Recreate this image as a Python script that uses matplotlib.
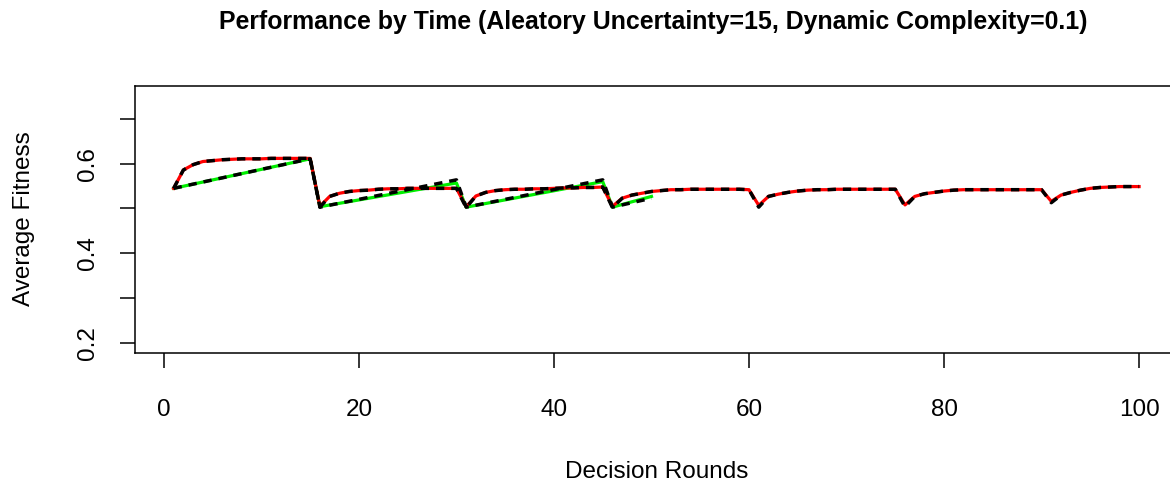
import matplotlib
matplotlib.use("Agg")
import matplotlib.pyplot as plt

plt.rcParams['font.family'] = ['Liberation Sans', 'DejaVu Sans']

# ---- data ----
rounds = list(range(1, 101))
red_vals = [
    0.545, 0.586, 0.598, 0.605, 0.607, 0.609, 0.610, 0.611, 0.611, 0.611,
    0.612, 0.612, 0.612, 0.612, 0.612, 0.505, 0.527, 0.534, 0.538, 0.540,
    0.541, 0.543, 0.544, 0.544, 0.545, 0.545, 0.545, 0.545, 0.545, 0.545,
    0.504, 0.528, 0.536, 0.540, 0.542, 0.543, 0.543, 0.544, 0.544, 0.545,
    0.546, 0.546, 0.547, 0.547, 0.548, 0.505, 0.523, 0.530, 0.534, 0.538,
    0.540, 0.542, 0.542, 0.543, 0.543, 0.543, 0.543, 0.543, 0.543, 0.542,
    0.507, 0.527, 0.532, 0.536, 0.539, 0.541, 0.542, 0.542, 0.543, 0.543,
    0.543, 0.543, 0.543, 0.543, 0.543, 0.508, 0.527, 0.533, 0.536, 0.539,
    0.541, 0.542, 0.542, 0.542, 0.542, 0.542, 0.542, 0.542, 0.542, 0.542,
    0.516, 0.530, 0.536, 0.541, 0.545, 0.547, 0.548, 0.549, 0.549, 0.549,
]
black1_vals = [
    0.545, 0.586, 0.598, 0.605, 0.607, 0.609, 0.610, 0.611, 0.611, 0.611,
    0.612, 0.612, 0.612, 0.612, 0.612, 0.503, 0.527, 0.534, 0.538, 0.540,
    0.541, 0.543, 0.544, 0.544, 0.545, 0.545, 0.545, 0.545, 0.545, 0.545,
    0.502, 0.528, 0.536, 0.540, 0.542, 0.543, 0.543, 0.544, 0.544, 0.545,
    0.546, 0.546, 0.547, 0.547, 0.548, 0.502, 0.523, 0.530, 0.534, 0.538,
    0.540, 0.542, 0.542, 0.543, 0.543, 0.543, 0.543, 0.543, 0.543, 0.542,
    0.503, 0.527, 0.532, 0.536, 0.539, 0.541, 0.542, 0.542, 0.543, 0.543,
    0.543, 0.543, 0.543, 0.543, 0.543, 0.504, 0.527, 0.533, 0.536, 0.539,
    0.541, 0.542, 0.542, 0.542, 0.542, 0.542, 0.542, 0.542, 0.542, 0.542,
    0.513, 0.530, 0.536, 0.541, 0.545, 0.547, 0.548, 0.549, 0.549, 0.549,
]
green_rounds = [1, 15, 16, 30, 31, 45, 46, 50]
green_vals = [0.545, 0.611, 0.504, 0.557, 0.503, 0.560, 0.503, 0.527]
black2_rounds = [1, 15, 16, 30, 31, 45, 46, 50]
black2_vals = [0.545, 0.611, 0.503, 0.564, 0.503, 0.564, 0.503, 0.523]

x_ticks = [0, 20, 40, 60, 80, 100]
y_ticks = [0.2, 0.3, 0.4, 0.5, 0.6, 0.7]
y_tick_labels = ['0.2', '', '0.4', '', '0.6', '']

title = "Performance by Time (Aleatory Uncertainty=15, Dynamic Complexity=0.1)"
xlabel = "Decision Rounds"
ylabel = "Average Fitness"

# ---- figure ----
W, H = 1170, 488
fig = plt.figure(figsize=(W / 100, H / 100), dpi=100)
left, right, top, bottom = 135, 1177.7, 86, 353.3
ax = fig.add_axes([left / W, 1 - bottom / H, (right - left) / W, (bottom - top) / H])

ax.plot(green_rounds, green_vals, color='#00ee00', lw=2.3, solid_joinstyle='round')
ax.plot(rounds, red_vals, color='#ff0000', lw=2.3, solid_joinstyle='round')
ax.plot(rounds, black1_vals, color='black', lw=2.5, linestyle=(0, (2.4, 2.0)))
ax.plot(black2_rounds, black2_vals, color='black', lw=2.5, linestyle=(0, (2.4, 2.0)))

ax.set_xlim(-2.96, 103.96)
ax.set_ylim(0.1763, 0.7738)
ax.set_xticks(x_ticks)
ax.set_xticklabels([str(v) for v in x_ticks])
ax.set_yticks(y_ticks)
ax.set_yticklabels(y_tick_labels, rotation=90, va='center')

for s in ax.spines.values():
    s.set_linewidth(1.1)
ax.tick_params(axis='both', direction='out', length=11, width=1.1, labelsize=17.5, colors='black')
ax.tick_params(axis='x', pad=22)
ax.tick_params(axis='y', pad=15)

fig.text((left + right) / 2 / W, 1 - 472 / H, xlabel, ha='center', va='center', fontsize=17.5)
fig.text(24 / W, 1 - 219 / H, ylabel, ha='center', va='center', rotation=90, fontsize=17.5)
fig.text(653.5 / W, 1 - 22 / H, title, ha='center', va='center', fontsize=17.9, fontweight='bold')

fig.savefig('out.png', dpi=100)
